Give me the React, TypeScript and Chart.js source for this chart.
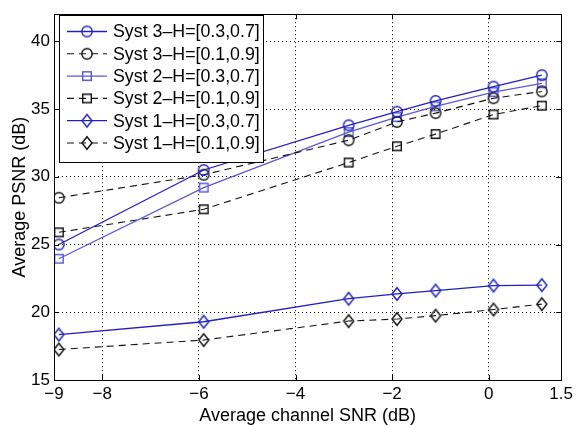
import React, { useEffect, useRef } from 'react';
import { Chart, registerables } from 'chart.js';

Chart.register(...registerables);

// ---- data ----
const snr = [-8.9, -5.9, -2.9, -1.9, -1.1, 0.1, 1.1];
const syst3H37 = [25.0, 30.5, 33.8, 34.8, 35.6, 36.65, 37.5];
const syst3H19 = [28.45, 30.15, 32.7, 34.05, 34.7, 35.8, 36.3];
const syst2H37 = [23.95, 29.2, 33.3, 34.4, 35.2, 36.25, 36.9];
const syst2H19 = [25.9, 27.6, 31.05, 32.25, 33.15, 34.6, 35.25];
const syst1H37 = [18.35, 19.3, 21.0, 21.35, 21.6, 21.97, 22.0];
const syst1H19 = [17.25, 17.95, 19.35, 19.5, 19.75, 20.2, 20.6];

const seriesLabels = [
  'Syst 3\u2013H=[0.3,0.7]',
  'Syst 3\u2013H=[0.1,0.9]',
  'Syst 2\u2013H=[0.3,0.7]',
  'Syst 2\u2013H=[0.1,0.9]',
  'Syst 1\u2013H=[0.3,0.7]',
  'Syst 1\u2013H=[0.1,0.9]',
];

const xTicks = [-9, -8, -6, -4, -2, 0, 1.5];
const yTicks = [15, 20, 25, 30, 35, 40];
const xGridValues = [-8, -6, -4, -2, 0];
const yGridValues = [20, 25, 30, 35, 40];

const xTitle = 'Average channel SNR (dB)';
const yTitle = 'Average PSNR (dB)';

const FONT = '"Liberation Sans", Arial, Helvetica, sans-serif';
const BLUE = '#2020c0';
const BLUE_LIGHT = '#5858d6';
const BLACK = '#111111';
const DASH = [7, 5];

function makeMarker(kind: string, color: string): HTMLCanvasElement {
  const c = document.createElement('canvas');
  const w = 16;
  const h = 18;
  c.width = w;
  c.height = h;
  const g = c.getContext('2d')!;
  g.strokeStyle = color;
  g.lineWidth = 1.4;
  const cx = w / 2;
  const cy = h / 2;
  g.beginPath();
  if (kind === 'circle') {
    g.arc(cx, cy, 5.2, 0, Math.PI * 2);
  } else if (kind === 'square') {
    g.rect(cx - 4.3, cy - 4.3, 8.6, 8.6);
  } else {
    g.moveTo(cx, cy - 6.3);
    g.lineTo(cx + 5.0, cy);
    g.lineTo(cx, cy + 6.3);
    g.lineTo(cx - 5.0, cy);
    g.closePath();
  }
  g.stroke();
  return c;
}

function fmtTick(v: number): string {
  return v < 0 ? '\u2212' + String(Math.abs(v)) : String(v);
}

export default function App() {
  const ref = useRef<HTMLCanvasElement | null>(null);

  useEffect(() => {
    if (!ref.current) return;
    const markers = {
      c3: makeMarker('circle', BLUE),
      c3b: makeMarker('circle', BLACK),
      s2: makeMarker('square', BLUE_LIGHT),
      s2b: makeMarker('square', BLACK),
      d1: makeMarker('diamond', BLUE),
      d1b: makeMarker('diamond', BLACK),
    };
    const seriesValues = [syst3H37, syst3H19, syst2H37, syst2H19, syst1H37, syst1H19];
    const styles = [
      { color: BLUE, dash: [] as number[], marker: markers.c3, width: 1.3 },
      { color: BLACK, dash: DASH, marker: markers.c3b, width: 1.1 },
      { color: BLUE_LIGHT, dash: [] as number[], marker: markers.s2, width: 1.2 },
      { color: BLACK, dash: DASH, marker: markers.s2b, width: 1.1 },
      { color: BLUE, dash: [] as number[], marker: markers.d1, width: 1.3 },
      { color: BLACK, dash: DASH, marker: markers.d1b, width: 1.1 },
    ];

    const datasets = seriesValues.map((vals, i) => ({
      label: seriesLabels[i],
      data: vals.map((y, j) => ({ x: snr[j], y })),
      borderColor: styles[i].color,
      borderWidth: styles[i].width,
      borderDash: styles[i].dash,
      backgroundColor: 'transparent',
      pointStyle: styles[i].marker,
      pointRadius: 6,
      pointHoverRadius: 6,
      tension: 0,
      fill: false,
    }));

    const framePlugin = {
      id: 'matlabFrame',
      afterDraw(chart: any) {
        const { ctx, chartArea } = chart;
        const { left, right, top, bottom } = chartArea;
        const xs = chart.scales.x;
        const ys = chart.scales.y;
        ctx.save();
        ctx.setLineDash([]);
        ctx.strokeStyle = '#000';
        ctx.lineWidth = 1;
        // inward ticks
        ctx.beginPath();
        const tl = 5;
        xTicks.forEach((v) => {
          const px = Math.round(xs.getPixelForValue(v)) + 0.5;
          ctx.moveTo(px, bottom);
          ctx.lineTo(px, bottom - tl);
          ctx.moveTo(px, top);
          ctx.lineTo(px, top + tl);
        });
        yTicks.forEach((v) => {
          const py = Math.round(ys.getPixelForValue(v)) + 0.5;
          ctx.moveTo(left, py);
          ctx.lineTo(left + tl, py);
          ctx.moveTo(right, py);
          ctx.lineTo(right - tl, py);
        });
        ctx.stroke();
        // frame
        ctx.strokeRect(Math.round(left) + 0.5, Math.round(top) + 0.5, Math.round(right - left), Math.round(bottom - top));

        // legend
        const lx = Math.round(left) + 5;
        const ly = Math.round(top) + 1;
        const lw = 204;
        const lh = 147;
        ctx.fillStyle = '#fff';
        ctx.fillRect(lx, ly, lw, lh);
        ctx.strokeStyle = '#000';
        ctx.strokeRect(lx + 0.5, ly + 0.5, lw, lh);
        ctx.font = '17.8px ' + FONT;
        ctx.textBaseline = 'middle';
        ctx.textAlign = 'left';
        chart.data.datasets.forEach((ds: any, i: number) => {
          const y = ly + 16.5 + i * 22.3;
          ctx.beginPath();
          ctx.strokeStyle = ds.borderColor;
          ctx.lineWidth = ds.borderWidth;
          ctx.setLineDash(ds.borderDash || []);
          ctx.moveTo(lx + 8, y);
          ctx.lineTo(lx + 48, y);
          ctx.stroke();
          ctx.setLineDash([]);
          const m = ds.pointStyle as HTMLCanvasElement;
          ctx.drawImage(m, lx + 28 - m.width / 2, y - m.height / 2);
          ctx.fillStyle = '#000';
          ctx.fillText(ds.label, lx + 54, y + 1);
        });
        ctx.restore();
      },
    };

    const chart = new Chart(ref.current, {
      type: 'line',
      data: { datasets },
      plugins: [framePlugin],
      options: {
        animation: false,
        responsive: false,
        devicePixelRatio: 1,
        layout: { padding: { top: 4, right: 13, left: 0, bottom: 0 } },
        plugins: {
          legend: { display: false },
          tooltip: { enabled: false },
        },
        scales: {
          x: {
            type: 'linear',
            min: -9,
            max: 1.5,
            afterBuildTicks: (scale: any) => {
              scale.ticks = xTicks.map((v) => ({ value: v }));
            },
            afterFit: (scale: any) => {
              scale.height = 45;
            },
            ticks: {
              callback: (v: any) => fmtTick(Number(v)),
              color: '#000',
              font: { family: FONT, size: 17 },
              padding: 4,
              maxRotation: 0,
              autoSkip: false,
            },
            grid: {
              drawTicks: false,
              lineWidth: 1,
              color: (ctx: any) =>
                ctx.tick && xGridValues.includes(ctx.tick.value) ? '#000' : 'rgba(0,0,0,0)',
            },
            border: { display: false, dash: [1, 3] },
            title: {
              display: true,
              text: xTitle,
              color: '#000',
              font: { family: FONT, size: 18, lineHeight: 1.05 },
              padding: { top: 0, bottom: 0 },
            },
          },
          y: {
            type: 'linear',
            min: 15,
            max: 42,
            afterBuildTicks: (scale: any) => {
              scale.ticks = yTicks.map((v) => ({ value: v }));
            },
            afterFit: (scale: any) => {
              scale.width = 54;
            },
            ticks: {
              callback: (v: any) => fmtTick(Number(v)),
              color: '#000',
              font: { family: FONT, size: 17 },
              padding: 4,
              autoSkip: false,
            },
            grid: {
              drawTicks: false,
              lineWidth: 1,
              color: (ctx: any) =>
                ctx.tick && yGridValues.includes(ctx.tick.value) ? '#000' : 'rgba(0,0,0,0)',
            },
            border: { display: false, dash: [1, 3] },
            title: {
              display: true,
              text: yTitle,
              color: '#000',
              font: { family: FONT, size: 18, lineHeight: 1.2 },
              padding: { top: 9, bottom: 0 },
            },
          },
        },
      } as any,
    });

    return () => {
      chart.destroy();
    };
  }, []);

  return (
    <div style={{ position: 'absolute', left: 0, top: 0, width: 577, height: 425, background: '#fff' }}>
      <canvas ref={ref} width={577} height={425} style={{ display: 'block' }} />
    </div>
  );
}
